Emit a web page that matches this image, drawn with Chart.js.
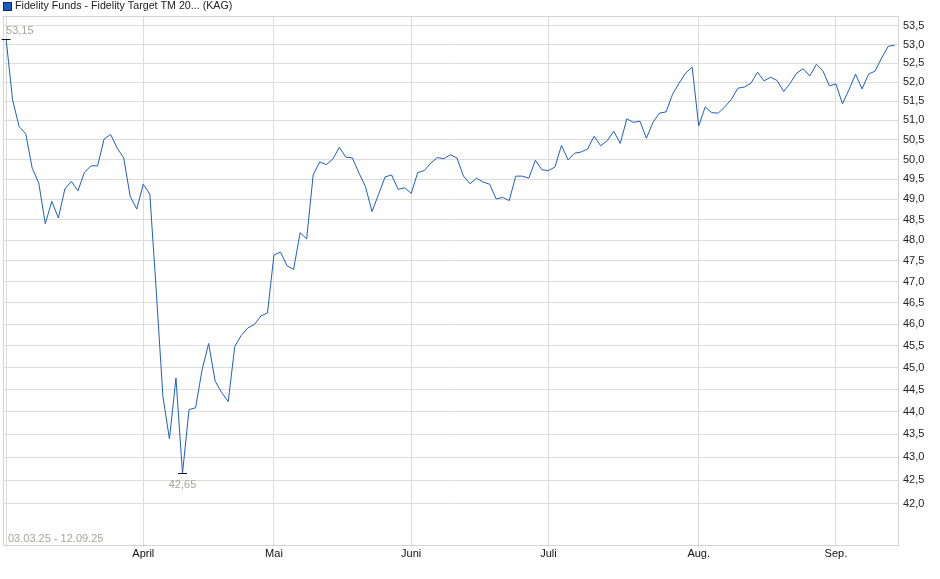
<!DOCTYPE html>
<html>
<head>
<meta charset="utf-8">
<script src="https://cdn.jsdelivr.net/npm/chart.js@4.4.1/dist/chart.umd.min.js"></script>
<style>
  html, body { margin: 0; padding: 0; background: #fff; }
  #wrap { width: 940px; height: 579px; }
</style>
</head>
<body>
<div id="wrap"><canvas id="chart" width="940" height="579"></canvas></div>
<script>
// --- Data ---
const title = 'Fidelity Funds - Fidelity Target TM 20... (KAG)';
const rangeText = '03.03.25 - 12.09.25';
const firstDay = '2025-03-03';
const lastDay = '2025-09-12';
const holidays = ['2025-04-18', '2025-04-21', '2025-05-01'];
const monthNames = ['', 'April', 'Mai', 'Juni', 'Juli', 'Aug.', 'Sep.'];
const yTicks = [42.0, 42.5, 43.0, 43.5, 44.0, 44.5, 45.0, 45.5, 46.0, 46.5, 47.0,
  47.5, 48.0, 48.5, 49.0, 49.5, 50.0, 50.5, 51.0, 51.5, 52.0, 52.5, 53.0, 53.5];

const prices = [
  53.15, 51.53, 50.84, 50.66, 49.78, 49.41, 48.40, 48.95, 48.54, 49.26,
  49.45, 49.21, 49.68, 49.84, 49.84, 50.52, 50.64, 50.29, 50.04, 49.07,
  48.76, 49.38, 49.13, 46.74, 44.35, 43.40, 44.76, 42.65, 44.05, 44.09,
  44.95, 45.55, 44.69, 44.43, 44.23, 45.48, 45.74, 45.91, 45.99, 46.19,
  46.26, 47.64, 47.71, 47.38, 47.29, 48.18, 48.03, 49.61, 49.94, 49.87,
  50.01, 50.31, 50.06, 50.04, 49.66, 49.32, 48.70, 49.12, 49.56, 49.61,
  49.25, 49.29, 49.15, 49.67, 49.72, 49.91, 50.05, 50.02, 50.12, 50.04,
  49.58, 49.39, 49.53, 49.43, 49.38, 49.01, 49.05, 48.97, 49.58, 49.58,
  49.53, 49.98, 49.74, 49.72, 49.81, 50.36, 49.99, 50.16, 50.19, 50.27,
  50.59, 50.35, 50.48, 50.72, 50.41, 51.04, 50.95, 50.98, 50.54, 50.95,
  51.19, 51.22, 51.68, 51.97, 52.24, 52.39, 50.86, 51.35, 51.20, 51.19,
  51.35, 51.55, 51.84, 51.87, 51.97, 52.26, 52.03, 52.13, 52.04, 51.75,
  51.97, 52.24, 52.35, 52.16, 52.47, 52.30, 51.90, 51.95, 51.43, 51.80,
  52.21, 51.82, 52.21, 52.29, 52.64, 52.95, 52.98
];

// trading days (weekdays without exchange holidays)
const dates = [];
for (let d = new Date(firstDay + 'T12:00:00Z'); d <= new Date(lastDay + 'T12:00:00Z'); d.setUTCDate(d.getUTCDate() + 1)) {
  const iso = d.toISOString().slice(0, 10);
  const wd = d.getUTCDay();
  if (wd === 0 || wd === 6 || holidays.includes(iso)) continue;
  dates.push(iso);
}

// first trading day of each month -> grid line + label
const monthStarts = [];
dates.forEach((iso, i) => {
  if (i === 0 || iso.slice(5, 7) !== dates[i - 1].slice(5, 7)) monthStarts.push(i);
});

const points = prices.map((v, i) => ({ x: i, y: v }));
const FONT = '"Liberation Sans", Arial, sans-serif';

const fmt = v => v.toFixed(2).replace('.', ',');

// header, frame and min/max marks
const decorations = {
  id: 'decorations',
  beforeDraw(chart) {
    const ctx = chart.ctx;
    ctx.save();
    ctx.fillStyle = '#fff';
    ctx.fillRect(0, 0, chart.width, chart.height);
    ctx.restore();
  },
  afterDatasetsDraw(chart) {
    const ctx = chart.ctx;
    const area = chart.chartArea;
    const xs = chart.scales.x, ys = chart.scales.y;
    ctx.save();

    // frame
    ctx.strokeStyle = '#d4d4d4';
    ctx.lineWidth = 1;
    ctx.strokeRect(Math.round(area.left) + 0.5, Math.round(area.top) + 0.5,
      Math.round(area.right - area.left), Math.round(area.bottom - area.top));

    // legend header
    ctx.fillStyle = '#1a5cc4';
    ctx.fillRect(3, 2, 9, 9);
    ctx.strokeStyle = '#1b2a44';
    ctx.strokeRect(3.5, 2.5, 8, 8);
    ctx.fillStyle = '#222';
    ctx.font = '10.7px ' + FONT;
    ctx.textBaseline = 'middle';
    ctx.textAlign = 'left';
    ctx.fillText(title, 15, 6.5);

    // min / max markers
    let iMax = 0, iMin = 0;
    prices.forEach((v, i) => {
      if (v > prices[iMax]) iMax = i;
      if (v < prices[iMin]) iMin = i;
    });
    ctx.font = '11px ' + FONT;
    ctx.strokeStyle = '#111';
    ctx.fillStyle = '#a7a39d';
    [[iMax, -1], [iMin, 1]].forEach(([i, dir]) => {
      const px = xs.getPixelForValue(i);
      const py = Math.round(ys.getPixelForValue(prices[i])) + 0.5;
      ctx.beginPath();
      ctx.moveTo(px - 4.5, py);
      ctx.lineTo(px + 4.5, py);
      ctx.stroke();
      const w = ctx.measureText(fmt(prices[i])).width;
      let tx = px - w / 2;
      if (tx < area.left + 3) tx = px;
      ctx.fillText(fmt(prices[i]), tx, py + dir * (dir < 0 ? 9 : 11));
    });

    // date range
    ctx.fillText(rangeText, 8, area.bottom - 6);
    ctx.restore();
  }
};

new Chart(document.getElementById('chart'), {
  type: 'line',
  data: {
    datasets: [{
      label: title,
      data: points,
      borderColor: '#1f5fc4',
      borderWidth: 1,
      pointRadius: 0,
      tension: 0,
      fill: false
    }]
  },
  options: {
    responsive: false,
    animation: false,
    events: [],
    layout: { padding: { left: 3, top: 16, right: 0, bottom: 0 } },
    plugins: { legend: { display: false }, tooltip: { enabled: false } },
    scales: {
      x: {
        type: 'linear',
        min: -0.47,
        max: 136.5,
        afterBuildTicks: s => { s.ticks = monthStarts.map(v => ({ value: v })); },
        afterFit: s => { s.height = 34; },
        grid: { color: '#dcdcdc', tickLength: 2, drawOnChartArea: true },
        border: { color: '#d4d4d4' },
        ticks: {
          autoSkip: false,
          maxRotation: 0,
          padding: 0,
          color: '#111',
          font: { family: FONT, size: 11 },
          callback: v => monthNames[monthStarts.indexOf(v)] || ''
        }
      },
      y: {
        type: 'logarithmic',
        position: 'right',
        min: 41.13,
        max: 53.77,
        afterBuildTicks: s => { s.ticks = yTicks.map(v => ({ value: v })); },
        afterFit: s => { s.width = 42; },
        grid: { color: '#dcdcdc', drawTicks: false },
        border: { color: '#d4d4d4' },
        ticks: {
          padding: 5,
          color: '#222',
          font: { family: FONT, size: 11 },
          callback: v => Number(v).toFixed(1).replace('.', ',')
        }
      }
    }
  },
  plugins: [decorations]
});
</script>
</body>
</html>
